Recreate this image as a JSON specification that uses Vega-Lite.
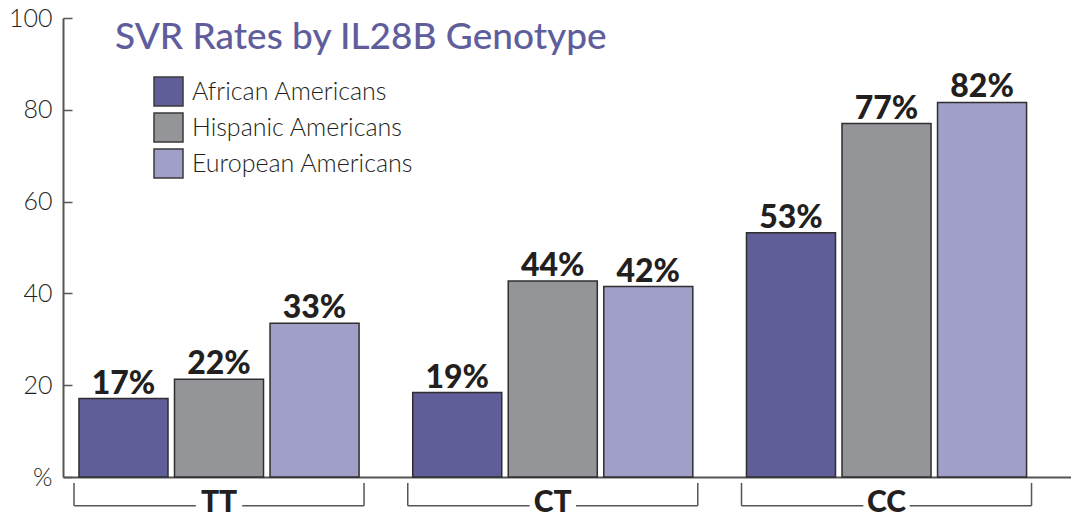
{
  "$schema": "https://vega.github.io/schema/vega-lite/v6.json",
  "autosize": {"type": "none"},
  "width": 1008,
  "height": 459,
  "padding": {"left": 63, "top": 18, "right": 0, "bottom": 40},
  "background": "white",
  "title": {
    "text": "SVR Rates by IL28B Genotype",
    "anchor": "start",
    "frame": "group",
    "dx": 52,
    "dy": 84,
    "baseline": "alphabetic",
    "font": "Lato",
    "fontSize": 37,
    "fontWeight": 500,
    "color": "#5f5e9c"
  },
  "config": {
    "view": {"stroke": null},
    "axis": {"grid": false}
  },
  "data": {
    "values": [
      {"genotype": "TT", "group": "African Americans", "svr": 17.1, "label": "17%"},
      {"genotype": "TT", "group": "Hispanic Americans", "svr": 21.3, "label": "22%"},
      {"genotype": "TT", "group": "European Americans", "svr": 33.5, "label": "33%"},
      {"genotype": "CT", "group": "African Americans", "svr": 18.4, "label": "19%"},
      {"genotype": "CT", "group": "Hispanic Americans", "svr": 42.7, "label": "44%"},
      {"genotype": "CT", "group": "European Americans", "svr": 41.5, "label": "42%"},
      {"genotype": "CC", "group": "African Americans", "svr": 53.2, "label": "53%"},
      {"genotype": "CC", "group": "Hispanic Americans", "svr": 77.0, "label": "77%"},
      {"genotype": "CC", "group": "European Americans", "svr": 81.6, "label": "82%"}
    ]
  },
  "layer": [
    {
      "mark": {"type": "bar", "stroke": "#2e2e30", "strokeWidth": 1.5},
      "encoding": {
        "x": {
          "field": "genotype", "type": "nominal", "sort": ["TT", "CT", "CC"],
          "scale": {"paddingInner": 0.131, "paddingOuter": 0.0756, "align": 0.218, "round": false},
          "axis": {
            "title": null, "labelAngle": 0, "ticks": false,
            "domain": true, "domainColor": "#555555", "domainWidth": 2,
            "labelFont": "Lato", "labelFontSize": 30, "labelFontWeight": 900,
            "labelColor": "#231f20", "labelPadding": 10, "labelBaseline": "top"
          }
        },
        "xOffset": {
          "field": "group", "type": "nominal",
          "sort": ["African Americans", "Hispanic Americans", "European Americans"],
          "scale": {"paddingInner": 0.068, "paddingOuter": 0.052, "round": false}
        },
        "y": {
          "field": "svr", "type": "quantitative",
          "scale": {"domain": [0, 100], "nice": false},
          "axis": {
            "title": null, "values": [0, 20, 40, 60, 80, 100],
            "labelExpr": "datum.value === 0 ? '%' : datum.label",
            "domainColor": "#555555", "domainWidth": 2,
            "tickColor": "#555555", "tickWidth": 1.5, "tickSize": -9,
            "labelFont": "Lato", "labelFontSize": 25, "labelFontWeight": 300,
            "labelColor": "#231f20", "labelPadding": 20
          }
        },
        "color": {
          "field": "group", "type": "nominal",
          "sort": ["African Americans", "Hispanic Americans", "European Americans"],
          "scale": {
            "domain": ["African Americans", "Hispanic Americans", "European Americans"],
            "range": ["#5f5e99", "#949599", "#a09fc7"]
          },
          "legend": {
            "title": null, "orient": "none", "legendX": 90, "legendY": 58,
            "symbolType": "square", "symbolSize": 841,
            "symbolStrokeColor": "#3a3a3a", "symbolStrokeWidth": 1.5,
            "symbolOpacity": 1,
            "labelFont": "Lato", "labelFontSize": 25, "labelFontWeight": 300,
            "labelColor": "#231f20", "labelOffset": 8, "rowPadding": 1,
            "labelLimit": 400
          }
        }
      }
    },
    {
      "mark": {"type": "text", "baseline": "alphabetic", "dy": -5, "font": "Lato", "fontSize": 32, "fontWeight": 900, "color": "#231f20"},
      "encoding": {
        "x": {"field": "genotype", "type": "nominal", "sort": ["TT", "CT", "CC"]},
        "xOffset": {"field": "group", "type": "nominal", "sort": ["African Americans", "Hispanic Americans", "European Americans"]},
        "y": {"field": "svr", "type": "quantitative"},
        "text": {"field": "label"}
      }
    },
    {
      "data": {"values": [{"genotype": "TT"}, {"genotype": "CT"}, {"genotype": "CC"}]},
      "mark": {"type": "rule", "color": "#555555", "strokeWidth": 1.5},
      "encoding": {
        "x": {"field": "genotype", "type": "nominal", "sort": ["TT", "CT", "CC"], "bandPosition": 0},
        "y": {"datum": -1.3},
        "y2": {"datum": -6.25}
      }
    },
    {
      "data": {"values": [{"genotype": "TT"}, {"genotype": "CT"}, {"genotype": "CC"}]},
      "mark": {"type": "rule", "color": "#555555", "strokeWidth": 1.5},
      "encoding": {
        "x": {"field": "genotype", "type": "nominal", "sort": ["TT", "CT", "CC"], "bandPosition": 1},
        "y": {"datum": -1.3},
        "y2": {"datum": -6.25}
      }
    },
    {
      "data": {"values": [{"genotype": "TT"}, {"genotype": "CT"}, {"genotype": "CC"}]},
      "mark": {"type": "rule", "color": "#555555", "strokeWidth": 1.5},
      "encoding": {
        "x": {"field": "genotype", "type": "nominal", "sort": ["TT", "CT", "CC"], "bandPosition": 0},
        "x2": {"field": "genotype", "bandPosition": 0.42},
        "y": {"datum": -6.25}
      }
    },
    {
      "data": {"values": [{"genotype": "TT"}, {"genotype": "CT"}, {"genotype": "CC"}]},
      "mark": {"type": "rule", "color": "#555555", "strokeWidth": 1.5},
      "encoding": {
        "x": {"field": "genotype", "type": "nominal", "sort": ["TT", "CT", "CC"], "bandPosition": 0.58},
        "x2": {"field": "genotype", "bandPosition": 1},
        "y": {"datum": -6.25}
      }
    }
  ]
}
